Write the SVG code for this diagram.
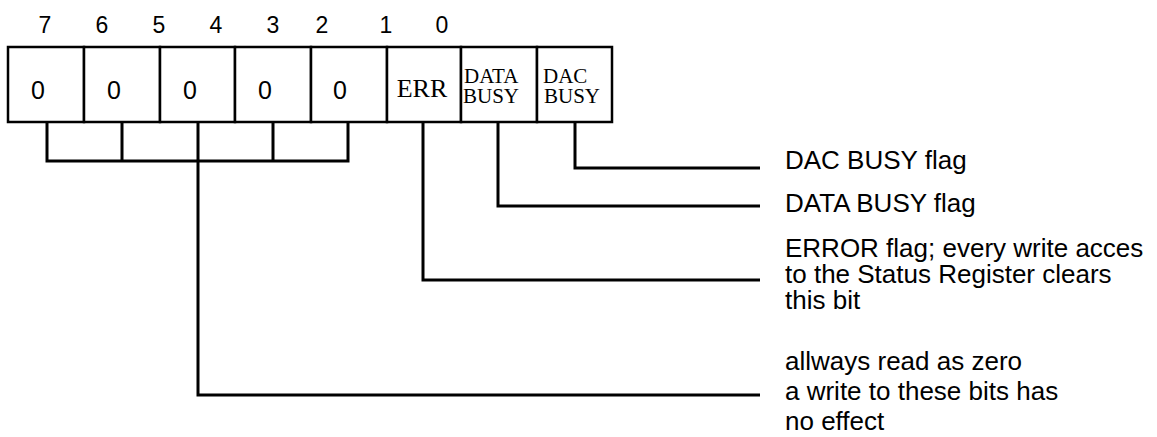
<svg xmlns="http://www.w3.org/2000/svg" width="1157" height="437" viewBox="0 0 1157 437">
<style>
.s{font-family:"Liberation Sans",Arial,sans-serif;font-size:26px;fill:#000}
.n{font-family:"Liberation Sans",Arial,sans-serif;font-size:23px;fill:#000;text-anchor:middle}
.z{font-family:"Liberation Sans",Arial,sans-serif;font-size:25px;fill:#000;text-anchor:middle}
.r{font-family:"Liberation Serif","Times New Roman",serif;fill:#000}
.box{fill:#fff;stroke:#000;stroke-width:2.5}
.ln{fill:none;stroke:#000;stroke-width:3;stroke-linejoin:miter}
</style>
<rect width="1157" height="437" fill="#fff"/>
<g id="bitnums">
<text class="n" x="45" y="33">7</text>
<text class="n" x="102" y="33">6</text>
<text class="n" x="159" y="33">5</text>
<text class="n" x="216" y="33">4</text>
<text class="n" x="273" y="33">3</text>
<text class="n" x="322" y="33">2</text>
<text class="n" x="386" y="33">1</text>
<text class="n" x="442" y="33">0</text>
</g>
<g id="cell7"><rect class="box" x="8" y="47" width="76" height="75"/><text class="z" x="38" y="99">0</text></g>
<g id="cell6"><rect class="box" x="84" y="47" width="76" height="75"/><text class="z" x="114" y="99">0</text></g>
<g id="cell5"><rect class="box" x="160" y="47" width="75" height="75"/><text class="z" x="190" y="99">0</text></g>
<g id="cell4"><rect class="box" x="235" y="47" width="76" height="75"/><text class="z" x="265" y="99">0</text></g>
<g id="cell3"><rect class="box" x="311" y="47" width="76" height="75"/><text class="z" x="340" y="99">0</text></g>
<g id="cell2"><rect class="box" x="387" y="47" width="74" height="75"/><text class="r" x="422" y="97" font-size="26" text-anchor="middle">ERR</text></g>
<g id="cell1"><rect class="box" x="461" y="47" width="76" height="75"/><text class="r" x="464" y="83" font-size="21">DATA</text><text class="r" x="463" y="103" font-size="21">BUSY</text></g>
<g id="cell0"><rect class="box" x="537" y="47" width="75" height="75"/><text class="r" x="543" y="83" font-size="21">DAC</text><text class="r" x="544" y="103" font-size="21">BUSY</text></g>
<g id="connectors">
<path class="ln" d="M47 122V161H348V122M122 122V161M273 122V161M198 122V395H760"/>
<path class="ln" d="M423 122V280H760"/>
<path class="ln" d="M498 122V206H760"/>
<path class="ln" d="M575 122V168H760"/>
</g>
<g id="labels">
<text class="s" x="785" y="169">DAC BUSY flag</text>
<text class="s" x="785" y="212">DATA BUSY flag</text>
<text class="s" x="785" y="257">ERROR flag; every write acces</text>
<text class="s" x="785" y="283">to the Status Register clears</text>
<text class="s" x="785" y="309">this bit</text>
<text class="s" x="785" y="370">allways read as zero</text>
<text class="s" x="785" y="400">a write to these bits has</text>
<text class="s" x="785" y="430">no effect</text>
</g>
</svg>
